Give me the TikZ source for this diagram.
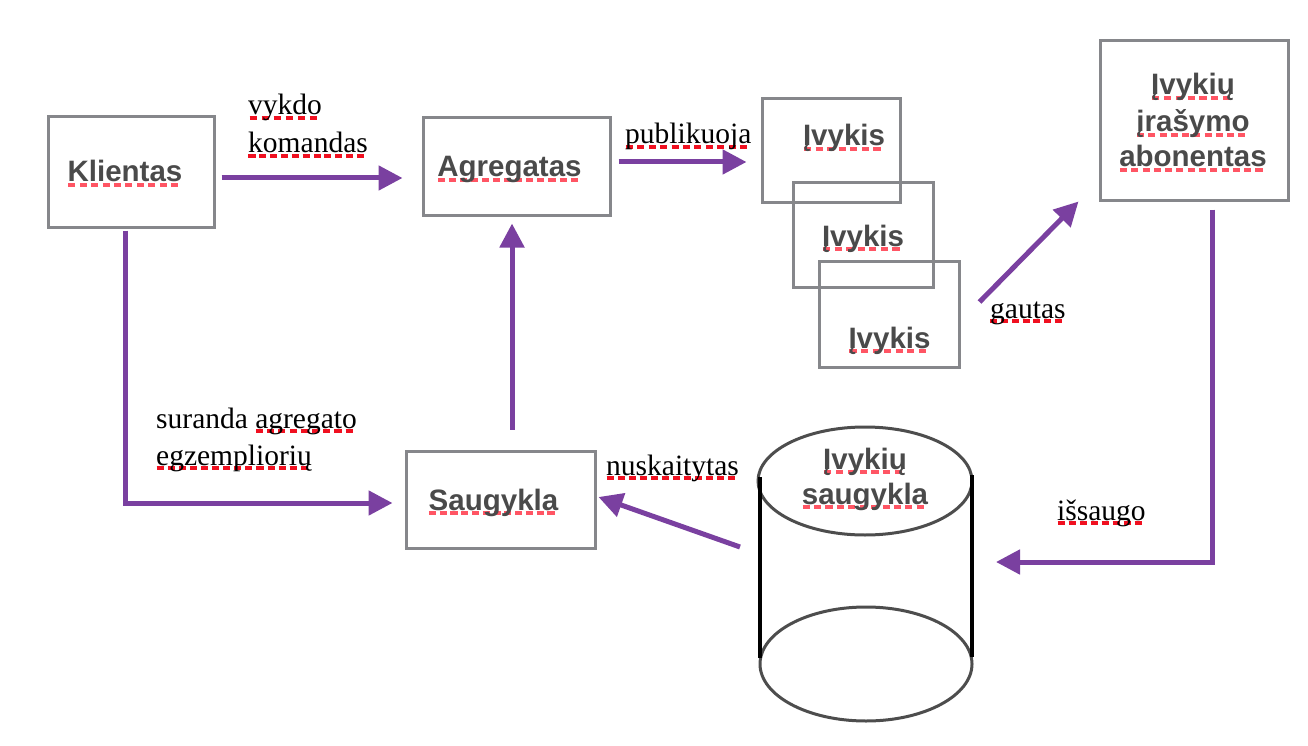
\documentclass[tikz,border=0pt]{standalone}
\usepackage{fontspec}
\setmainfont{Liberation Serif}
\newfontfamily\boxfont{Liberation Sans}
\usetikzlibrary{arrows.meta,calc}
\definecolor{purp}{HTML}{7A40A0}
\definecolor{boxg}{HTML}{86878B}
\definecolor{txtg}{HTML}{4A4A4A}
\definecolor{cylg}{HTML}{4D4D4D}
\definecolor{splb}{HTML}{FF5564}
\definecolor{splr}{HTML}{F01020}
\newsavebox\mysplbox
\newcommand\spu[2]{\sbox\mysplbox{#2}\rlap{\textcolor{#1}{\hbox to \wd\mysplbox{\xleaders\hbox{\rule[-0.17em]{0.24em}{0.12em}\kern0.12em}\hfill}}}\usebox\mysplbox}
\newcommand\spb[1]{\spu{splb}{#1}}
\newcommand\spr[1]{\spu{splr}{#1}}
\tikzset{
  box/.style={draw=boxg, line width=3pt, inner sep=0, rectangle},
  btxt/.style={inner sep=0, anchor=base, text=txtg, font=\boxfont\bfseries\fontsize{29.5}{35}\selectfont},
  lbl/.style={inner sep=0, anchor=base west, text=black, font=\fontsize{29.5}{35}\selectfont},
  arr/.style={draw=purp, line width=5pt, -{Triangle[length=24pt,width=24pt]}},
}
\begin{document}
\begin{tikzpicture}[x=1pt,y=-1pt]
\useasboundingbox (0,0) rectangle (1308,746);
% boxes
\node[box, minimum width=166, minimum height=110] (k) at (131,172) {};
\node[box, minimum width=187, minimum height=97] (ag) at (516.5,166.5) {};
\node[box, minimum width=138, minimum height=103] (e1) at (831,150.5) {};
\node[box, minimum width=140, minimum height=104] (e2) at (863,235) {};
\node[box, minimum width=140, minimum height=106] (e3) at (889,314) {};
\node[box, minimum width=188, minimum height=159] (ab) at (1194,120.5) {};
\node[box, minimum width=189, minimum height=97] (sg) at (500.5,499.5) {};
% box texts
\node[btxt] (kt) at (125,182) {\spb{Klientas}};
\node[btxt] (agt) at (509.5,177) {\spb{Agregatas}};
\node[btxt] (e1t) at (844,146) {\spb{Įvykis}};
\node[btxt] (e2t) at (863,246) {\spb{Įvykis}};
\node[btxt] (e3t) at (889.5,348) {\spb{Įvykis}};
\node[btxt] (abt1) at (1193,95) {\spb{Įvykių}};
\node[btxt] (abt2) at (1193,132) {\spb{įrašymo}};
\node[btxt] (abt3) at (1193,167) {\spb{abonentas}};
\node[btxt] (sgt) at (493.5,510) {\spb{Saugykla}};
% cylinder
\draw[cylg, line width=3pt] (865,481) ellipse [x radius=107, y radius=54];
\draw[cylg, line width=3pt] (866,664) ellipse [x radius=106, y radius=57];
\draw[black, line width=3.5pt] (760,477) -- (760,658);
\draw[black, line width=3.5pt] (972,475) -- (972,657);
\node[btxt] (cyt1) at (865,469) {\spb{Įvykių}};
\node[btxt] (cyt2) at (865,504) {\spb{saugykla}};
\coordinate (cylL) at (740,547);
\coordinate (cylR) at (996,562);
% labels
\node[lbl] (l1a) at (248,115) {\spr{vykdo}};
\node[lbl] (l1b) at (248,153) {\spr{komandas}};
\node[lbl] (l2) at (625,144) {\spr{publikuoja}};
\node[lbl] (l3) at (990,318) {\spr{gautas}};
\node[lbl] (l4a) at (156,428) {suranda \spr{agregato}};
\node[lbl] (l4b) at (156,465) {\spr{egzempliorių}};
\node[lbl] (l5) at (606,475) {\spr{nuskaitytas}};
\node[lbl] (l6) at (1057,520) {\spr{išsaugo}};
% connectors
\draw[arr] ($(k.east)+(6,6)$) -- ($(ag.west)+(-19,11.5)$);
\draw[arr] ($(ag.east)+(7,-4.5)$) -- ($(e1.west)+(-14,11.5)$);
\draw[arr] ($(k.south)+(-6,2)$) |- ($(sg.west)+(-12,3.5)$);
\draw[arr] ($(sg.north)+(11.5,-20)$) -- ($(ag.south)+(-4.5,7)$);
\draw[arr] (cylL) -- ($(sg.east)+(2,-2.5)$);
\draw[arr] ($(e3.east)+(19,-12)$) -- ($(ab.south west)+(-20,0)$);
\draw[arr] ($(ab.south)+(18,8)$) |- (cylR);
\end{tikzpicture}
\end{document}
